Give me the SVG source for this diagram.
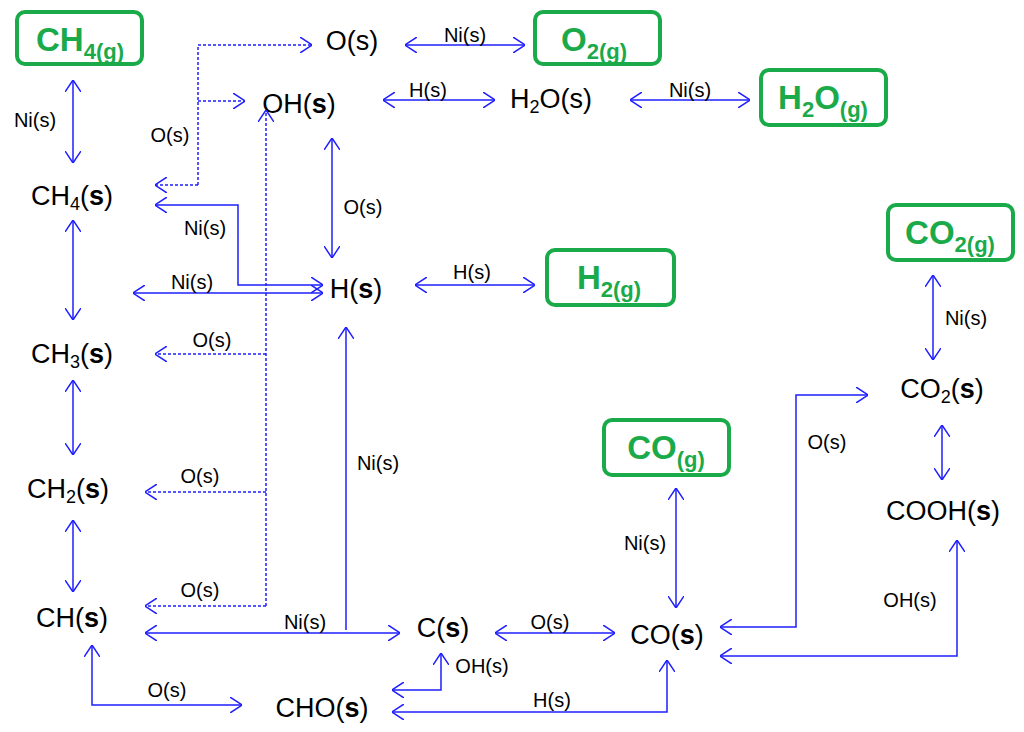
<svg xmlns="http://www.w3.org/2000/svg" width="1024" height="732" viewBox="0 0 1024 732">
<style>
.n{font-family:"Liberation Sans",Arial,sans-serif;font-size:27px;fill:#000;text-anchor:middle}
.n .b{font-weight:bold}
.g{font-family:"Liberation Sans",Arial,sans-serif;font-size:33px;font-weight:bold;fill:#1aaa4a;text-anchor:middle}
.box{fill:#fff;stroke:#1aaa4a;stroke-width:4}
.l{font-family:"Liberation Sans",Arial,sans-serif;font-size:20px;fill:#000;text-anchor:middle}
.c{fill:none;stroke:#1f1fff;stroke-width:1.5;marker-end:url(#a)}
.d{marker-start:url(#a)}
.s{stroke-dasharray:3,2}
</style>
<defs><marker id="a" viewBox="0 0 12 16" refX="12" refY="8" markerWidth="12" markerHeight="16" markerUnits="userSpaceOnUse" orient="auto-start-reverse"><path d="M0,0 L12,8 L0,16" fill="none" stroke="#1f1fff" stroke-width="1.5"/></marker></defs>
<rect width="1024" height="732" fill="#fff"/>
<g id="CH4g"><rect class="box" x="17" y="12" width="125" height="52" rx="8"/><text class="g" x="80" y="51">CH<tspan font-size="22" dy="8">4(g)</tspan></text></g>
<g id="O2g"><rect class="box" x="535" y="12" width="125" height="52" rx="8"/><text class="g" x="594" y="51">O<tspan font-size="22" dy="8">2(g)</tspan></text></g>
<g id="H2Og"><rect class="box" x="761" y="70" width="125" height="55" rx="8"/><text class="g" x="823" y="109">H<tspan font-size="22" dy="8">2</tspan><tspan dy="-8">O</tspan><tspan font-size="22" dy="8">(g)</tspan></text></g>
<g id="H2g"><rect class="box" x="547" y="250" width="127" height="55" rx="8"/><text class="g" x="609" y="289">H<tspan font-size="22" dy="8">2(g)</tspan></text></g>
<g id="CO2g"><rect class="box" x="888" y="205" width="125" height="55" rx="8"/><text class="g" x="950" y="244">CO<tspan font-size="22" dy="8">2(g)</tspan></text></g>
<g id="COg"><rect class="box" x="604" y="420" width="125" height="55" rx="8"/><text class="g" x="666" y="459">CO<tspan font-size="22" dy="8">(g)</tspan></text></g>
<g id="Os"><text class="n" x="352" y="50">O(s)</text></g>
<g id="OHs"><text class="n" x="299" y="113">OH(<tspan class="b">s</tspan>)</text></g>
<g id="H2Os"><text class="n" x="551" y="108">H<tspan font-size="18" dy="5">2</tspan><tspan dy="-5">O(s)</tspan></text></g>
<g id="CH4s"><text class="n" x="72" y="205">CH<tspan font-size="18" dy="5">4</tspan><tspan dy="-5">(</tspan><tspan class="b">s</tspan>)</text></g>
<g id="Hs"><text class="n" x="356" y="298">H(<tspan class="b">s</tspan>)</text></g>
<g id="CH3s"><text class="n" x="72" y="363">CH<tspan font-size="18" dy="5">3</tspan><tspan dy="-5">(</tspan><tspan class="b">s</tspan>)</text></g>
<g id="CH2s"><text class="n" x="68" y="498">CH<tspan font-size="18" dy="5">2</tspan><tspan dy="-5">(</tspan><tspan class="b">s</tspan>)</text></g>
<g id="CHs"><text class="n" x="72" y="627">CH(<tspan class="b">s</tspan>)</text></g>
<g id="Cs"><text class="n" x="443" y="637">C(<tspan class="b">s</tspan>)</text></g>
<g id="COs"><text class="n" x="667" y="644">CO(<tspan class="b">s</tspan>)</text></g>
<g id="CHOs"><text class="n" x="322" y="717">CHO(<tspan class="b">s</tspan>)</text></g>
<g id="CO2s"><text class="n" x="942" y="398">CO<tspan font-size="18" dy="5">2</tspan><tspan dy="-5">(</tspan><tspan class="b">s</tspan>)</text></g>
<g id="COOHs"><text class="n" x="943" y="520">COOH(<tspan class="b">s</tspan>)</text></g>
<g id="connectors">
<path class="c d" d="M73,80V163"/>
<path class="c s" d="M198,185V45H312"/>
<path class="c s" d="M198,101H245"/>
<path class="c s" d="M198,185H155"/>
<path class="c d" d="M405,45H525"/>
<path class="c d" d="M383,100H495"/>
<path class="c d" d="M630,100H750"/>
<path class="c d" d="M332,138V258"/>
<path class="c d" d="M155,205H238V285H323"/>
<path class="c d" d="M133,293H323"/>
<path class="c d" d="M415,285H535"/>
<path class="c s" d="M266,606V110"/>
<path class="c s" d="M266,354H155"/>
<path class="c s" d="M266,492H145"/>
<path class="c s" d="M266,606H145"/>
<path class="c d" d="M73,220V320"/>
<path class="c d" d="M73,380V455"/>
<path class="c d" d="M73,520V592"/>
<path class="c d" d="M145,633H400"/>
<path class="c" d="M346,630V327"/>
<path class="c d" d="M92,645V705H242"/>
<path class="c d" d="M495,633H615"/>
<path class="c d" d="M392,690H441V653"/>
<path class="c d" d="M392,712H667V660"/>
<path class="c d" d="M676,488V608"/>
<path class="c d" d="M720,627H796V395H868"/>
<path class="c d" d="M720,656H957V540"/>
<path class="c d" d="M942,425V480"/>
<path class="c d" d="M933,275V360"/>
<text class="l" x="35" y="127">Ni(s)</text>
<text class="l" x="170" y="142">O(s)</text>
<text class="l" x="465" y="42">Ni(s)</text>
<text class="l" x="428" y="97">H(s)</text>
<text class="l" x="690" y="97">Ni(s)</text>
<text class="l" x="363" y="214">O(s)</text>
<text class="l" x="205" y="235">Ni(s)</text>
<text class="l" x="192" y="289">Ni(s)</text>
<text class="l" x="472" y="279">H(s)</text>
<text class="l" x="212" y="347">O(s)</text>
<text class="l" x="200" y="483">O(s)</text>
<text class="l" x="200" y="597">O(s)</text>
<text class="l" x="305" y="629">Ni(s)</text>
<text class="l" x="378" y="470">Ni(s)</text>
<text class="l" x="167" y="697">O(s)</text>
<text class="l" x="550" y="629">O(s)</text>
<text class="l" x="482" y="673">OH(s)</text>
<text class="l" x="552" y="707">H(s)</text>
<text class="l" x="645" y="550">Ni(s)</text>
<text class="l" x="827" y="449">O(s)</text>
<text class="l" x="910" y="607">OH(s)</text>
<text class="l" x="966" y="325">Ni(s)</text>
</g>
</svg>
